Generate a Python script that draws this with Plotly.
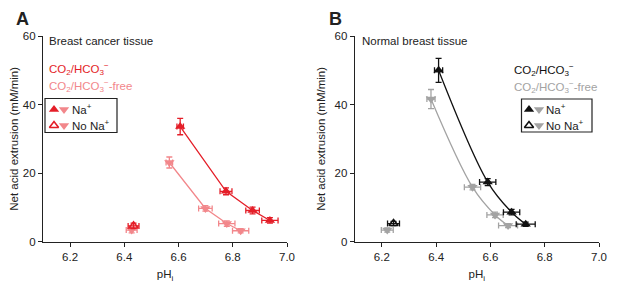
import plotly.graph_objects as go

# ---- Data ----
# Panel A: breast cancer tissue
a_hco3_na_ph = [6.606, 6.775, 6.873, 6.937]
a_hco3_na_y = [33.6, 14.7, 9.1, 6.2]
a_hco3_na_xerr = [0.012, 0.022, 0.025, 0.03]
a_hco3_na_yerr = [2.4, 1.0, 1.0, 0.8]
a_hco3_nona_ph = [6.434]
a_hco3_nona_y = [4.6]
a_hco3_nona_xerr = [0.02]
a_hco3_nona_yerr = [0.8]
a_free_na_ph = [6.566, 6.699, 6.778, 6.829]
a_free_na_y = [23.1, 9.7, 5.3, 3.2]
a_free_na_xerr = [0.012, 0.025, 0.03, 0.03]
a_free_na_yerr = [1.6, 0.8, 0.8, 0.6]
a_free_nona_ph = [6.427]
a_free_nona_y = [3.4]
a_free_nona_xerr = [0.02]
a_free_nona_yerr = [0.8]

# Panel B: normal breast tissue
b_hco3_na_ph = [6.409, 6.590, 6.678, 6.730]
b_hco3_na_y = [50.0, 17.4, 8.6, 5.1]
b_hco3_na_xerr = [0.015, 0.03, 0.03, 0.035]
b_hco3_na_yerr = [3.5, 1.0, 0.8, 0.6]
b_hco3_nona_ph = [6.243]
b_hco3_nona_y = [5.3]
b_hco3_nona_xerr = [0.022]
b_hco3_nona_yerr = [0.6]
b_free_na_ph = [6.381, 6.534, 6.617, 6.665]
b_free_na_y = [41.6, 15.9, 7.8, 4.7]
b_free_na_xerr = [0.015, 0.03, 0.03, 0.035]
b_free_na_yerr = [2.8, 0.8, 0.8, 0.6]
b_free_nona_ph = [6.220]
b_free_nona_y = [3.4]
b_free_nona_xerr = [0.022]
b_free_nona_yerr = [0.6]

x_ticks = [6.2, 6.4, 6.6, 6.8, 7.0]
y_ticks = [0, 20, 40, 60]

RED = "#E41E28"
PINK = "#F2878B"
BLACK = "#111111"
GRAY = "#A3A3A3"
FONT = "Arial, Liberation Sans, sans-serif"

# page has an 8px body margin; figure is sized to fit the window
OFF = 8
W, H = 617 - OFF, 292 - OFF


def px(x):
    return (x - OFF) / W


def py(y):
    return 1 - (y - OFF) / H


def mk(symbol, color):
    is_open = "open" in symbol
    return dict(symbol=symbol, size=8 if is_open else 9, color=color,
                line=dict(color=color, width=1.6 if is_open else 0))


fig = go.Figure()


def add(x, y, xe, ye, color, symbol, xa, ya, lines=False, shape="linear", lw=1.3):
    fig.add_trace(go.Scatter(
        x=x, y=y, xaxis=xa, yaxis=ya,
        mode="lines+markers" if lines else "markers",
        line=dict(color=color, width=lw, shape=shape),
        marker=mk(symbol, color),
        error_x=dict(type="data", array=xe, color=color, thickness=1.3, width=3),
        error_y=dict(type="data", array=ye, color=color, thickness=1.3, width=3),
        showlegend=False, cliponaxis=False,
    ))


# Panel A
add(a_free_na_ph, a_free_na_y, a_free_na_xerr, a_free_na_yerr, PINK, "triangle-down", "x", "y", True)
add(a_free_nona_ph, a_free_nona_y, a_free_nona_xerr, a_free_nona_yerr, PINK, "triangle-down", "x", "y")
add(a_hco3_na_ph, a_hco3_na_y, a_hco3_na_xerr, a_hco3_na_yerr, RED, "triangle-up", "x", "y", True)
add(a_hco3_nona_ph, a_hco3_nona_y, a_hco3_nona_xerr, a_hco3_nona_yerr, RED, "triangle-up-open", "x", "y")

# Panel B
add(b_free_na_ph, b_free_na_y, b_free_na_xerr, b_free_na_yerr, GRAY, "triangle-down", "x2", "y2", True, "spline")
add(b_free_nona_ph, b_free_nona_y, b_free_nona_xerr, b_free_nona_yerr, GRAY, "triangle-down", "x2", "y2")
add(b_hco3_na_ph, b_hco3_na_y, b_hco3_na_xerr, b_hco3_na_yerr, BLACK, "triangle-up", "x2", "y2", True, "spline")
add(b_hco3_nona_ph, b_hco3_nona_y, b_hco3_nona_xerr, b_hco3_nona_yerr, BLACK, "triangle-up-open", "x2", "y2")

ydom = [py(241.7), py(36)]


# Overlay axis in window-pixel units for legend glyphs
def glyph(gx, gy, color, symbol):
    fig.add_trace(go.Scatter(
        x=[gx], y=[gy], xaxis="x3", yaxis="y3", mode="markers",
        marker=mk(symbol, color),
        showlegend=False, hoverinfo="skip", cliponaxis=False))


glyph(54, 109.5, RED, "triangle-up")
glyph(64, 109.5, PINK, "triangle-down")
glyph(54, 125.5, RED, "triangle-up-open")
glyph(64, 125.5, PINK, "triangle-down")
glyph(529, 109.5, BLACK, "triangle-up")
glyph(539, 109.5, GRAY, "triangle-down")
glyph(529, 125.5, BLACK, "triangle-up-open")
glyph(539, 125.5, GRAY, "triangle-down")

axis_common = dict(showline=True, linecolor="#222", linewidth=1.2, ticks="outside",
                   ticklen=4, tickwidth=1.2, tickcolor="#222", showgrid=False,
                   zeroline=False, automargin=False,
                   tickfont=dict(size=11.5, color="#222", family=FONT))

fig.update_layout(
    width=W, height=H, margin=dict(l=0, r=0, t=0, b=0, autoexpand=False),
    paper_bgcolor="white", plot_bgcolor="rgba(0,0,0,0)",
    font=dict(family=FONT, color="#222"),
    xaxis=dict(domain=[px(43), px(287)], range=[6.1, 7.0], tickvals=x_ticks,
               ticktext=[f"{v:.1f}" for v in x_ticks], anchor="y",
               title=dict(text="pH<sub>i</sub>", font=dict(size=11.5), standoff=8), **axis_common),
    yaxis=dict(domain=ydom, range=[0, 60], tickvals=y_ticks, anchor="x",
               title=dict(text="Net acid extrusion (mM/min)", font=dict(size=11.5), standoff=6),
               **axis_common),
    xaxis2=dict(domain=[px(354.7), px(599)], range=[6.1, 7.0], tickvals=x_ticks,
                ticktext=[f"{v:.1f}" for v in x_ticks], anchor="y2",
                title=dict(text="pH<sub>i</sub>", font=dict(size=11.5), standoff=8), **axis_common),
    yaxis2=dict(domain=ydom, range=[0, 60], tickvals=y_ticks, anchor="x2",
                title=dict(text="Net acid extrusion (mM/min)", font=dict(size=11.5), standoff=6),
                **axis_common),
    xaxis3=dict(domain=[0, 1], range=[OFF, OFF + W], visible=False, fixedrange=True, anchor="y3"),
    yaxis3=dict(domain=[0, 1], range=[OFF + H, OFF], visible=False, fixedrange=True, anchor="x3"),
)


def ann(text, x, y, size=11.5, color="#222", xanchor="left", yanchor="middle", bold=False):
    fig.add_annotation(text=f"<b>{text}</b>" if bold else text, x=px(x), y=py(y),
                       xref="paper", yref="paper", xanchor=xanchor, yanchor=yanchor,
                       showarrow=False, borderpad=0,
                       font=dict(size=size, color=color, family=FONT))


CO2 = "CO<sub>2</sub>/HCO<sub>3</sub><sup>−</sup>"

# Panel labels
ann("A", 15, 8, size=18, yanchor="top", bold=True)
ann("B", 328, 8, size=18, yanchor="top", bold=True)

# Panel A texts
ann("Breast cancer tissue", 48, 41, color="#222")
ann(CO2, 48, 69, color=RED)
ann(CO2 + "-free", 48, 86, color=PINK)
fig.add_shape(type="rect", xref="paper", yref="paper", x0=px(45), x1=px(117),
              y0=py(132.5), y1=py(98.5), line=dict(color="#222", width=1.2))
ann("Na<sup>+</sup>", 71, 109)
ann("No Na<sup>+</sup>", 71, 125)

# Panel B texts
ann("Normal breast tissue", 361, 41, color="#222")
ann(CO2, 513, 70, color=BLACK)
ann(CO2 + "-free", 513, 87, color=GRAY)
fig.add_shape(type="rect", xref="paper", yref="paper", x0=px(521.5), x1=px(592),
              y0=py(132), y1=py(99), line=dict(color="#222", width=1.2))
ann("Na<sup>+</sup>", 545, 109)
ann("No Na<sup>+</sup>", 545, 125)

fig.write_html("out.html")
